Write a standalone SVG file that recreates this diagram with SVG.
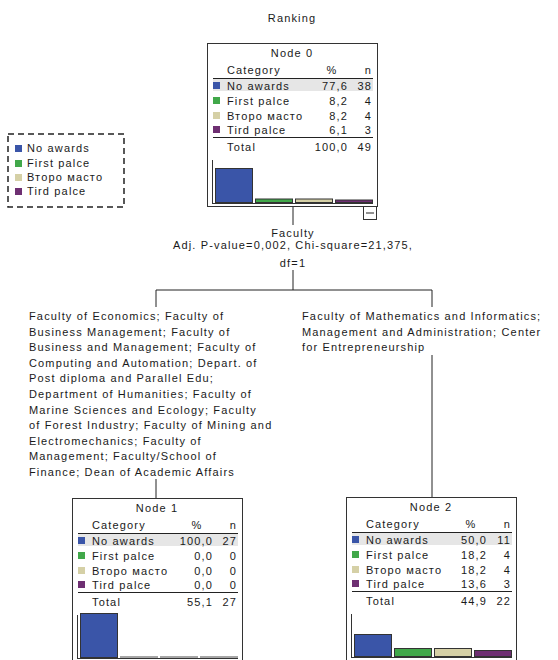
<svg xmlns="http://www.w3.org/2000/svg" width="558" height="660" viewBox="0 0 558 660">
<style>
.t{font-family:"Liberation Sans",Arial,sans-serif;font-size:11px;letter-spacing:1.15px;fill:#1a1a1a}
.m{text-anchor:middle}
.e{text-anchor:end}
.box{fill:#fff;stroke:#333;stroke-width:1}
.rule{stroke:#222;stroke-width:1;fill:none}
.ax{stroke:#333;stroke-width:1;fill:none}
.hl{fill:#e6e6e6}
.c1{fill:#3a55a8}
.c2{fill:#41a84a}
.c3{fill:#d5d0a6}
.c4{fill:#6e2f72}
.bar{stroke:#333;stroke-width:1}
.zero{stroke:#888;stroke-width:1.5}
.conn{stroke:#222;stroke-width:1;fill:none}
.leg{fill:none;stroke:#222;stroke-width:1.5;stroke-dasharray:6 4}
</style>
<rect width="558" height="660" fill="#fff"/>
<text class="t m" x="292" y="22">Ranking</text>

<g id="legend">
<rect class="leg" x="8" y="134" width="116" height="73"/>
<rect class="c1" x="15" y="145" width="7" height="7"/><text class="t" x="27" y="152">No awards</text>
<rect class="c2" x="15" y="160" width="7" height="7"/><text class="t" x="27" y="167">First palce</text>
<rect class="c3" x="15" y="174" width="7" height="7"/><text class="t" x="27" y="181">Второ масто</text>
<rect class="c4" x="15" y="188" width="7" height="7"/><text class="t" x="27" y="195">Tird palce</text>
</g>

<g id="connectors">
<line class="conn" x1="293" y1="206" x2="293" y2="225"/>
<line class="conn" x1="293" y1="270" x2="293" y2="290"/>
<line class="conn" x1="156" y1="290" x2="432" y2="290"/>
<line class="conn" x1="156" y1="290" x2="156" y2="307"/>
<line class="conn" x1="156" y1="479" x2="156" y2="498"/>
<line class="conn" x1="432" y1="290" x2="432" y2="307"/>
<line class="conn" x1="432" y1="355" x2="432" y2="497"/>
</g>

<g id="split">
<text class="t m" x="293" y="237">Faculty</text>
<text class="t m" x="293" y="249">Adj. P-value=0,002, Chi-square=21,375,</text>
<text class="t m" x="293" y="267">df=1</text>
</g>

<g id="branch-left">
<text class="t" x="29" y="320">Faculty of Economics; Faculty of</text>
<text class="t" x="29" y="335.6">Business Management; Faculty of</text>
<text class="t" x="29" y="351.2">Business and Management; Faculty of</text>
<text class="t" x="29" y="366.8">Computing and Automation; Depart. of</text>
<text class="t" x="29" y="382.4">Post diploma and Parallel Edu;</text>
<text class="t" x="29" y="398">Department of Humanities; Faculty of</text>
<text class="t" x="29" y="413.6">Marine Sciences and Ecology; Faculty</text>
<text class="t" x="29" y="429.2">of Forest Industry; Faculty of Mining and</text>
<text class="t" x="29" y="444.8">Electromechanics; Faculty of</text>
<text class="t" x="29" y="460.4">Management; Faculty/School of</text>
<text class="t" x="29" y="476">Finance; Dean of Academic Affairs</text>
</g>

<g id="branch-right">
<text class="t" x="302" y="320">Faculty of Mathematics and Informatics;</text>
<text class="t" x="302" y="335.6">Management and Administration; Center</text>
<text class="t" x="302" y="351.2">for Entrepreneurship</text>
</g>

<g id="node0" transform="translate(207,43)">
<rect class="box" x="0.5" y="0.5" width="170" height="163"/>
<text class="t m" x="85" y="14">Node 0</text>
<text class="t" x="20" y="31">Category</text><text class="t m" x="125" y="31">%</text><text class="t e" x="165" y="31">n</text>
<line class="rule" x1="6" y1="35.5" x2="166" y2="35.5"/>
<rect class="hl" x="6" y="36" width="160" height="12"/>
<rect class="c1" x="6" y="39" width="7" height="7"/><text class="t" x="20" y="47">No awards</text><text class="t e" x="141" y="47">77,6</text><text class="t e" x="165" y="47">38</text>
<rect class="c2" x="6" y="54" width="7" height="7"/><text class="t" x="20" y="62">First palce</text><text class="t e" x="141" y="62">8,2</text><text class="t e" x="165" y="62">4</text>
<rect class="c3" x="6" y="69" width="7" height="7"/><text class="t" x="20" y="77">Второ масто</text><text class="t e" x="141" y="77">8,2</text><text class="t e" x="165" y="77">4</text>
<rect class="c4" x="6" y="83" width="7" height="7"/><text class="t" x="20" y="91">Tird palce</text><text class="t e" x="141" y="91">6,1</text><text class="t e" x="165" y="91">3</text>
<line class="rule" x1="6" y1="94.5" x2="166" y2="94.5"/>
<text class="t" x="20" y="108">Total</text><text class="t e" x="141" y="108">100,0</text><text class="t e" x="165" y="108">49</text>
<line class="ax" x1="5.5" y1="117" x2="5.5" y2="160.5"/>
<line class="ax" x1="5" y1="160.5" x2="166" y2="160.5"/>
<rect class="c1 bar" x="8.5" y="125.5" width="37" height="34"/>
<rect class="c2 bar" x="48.5" y="156" width="37" height="3.5"/>
<rect class="c3 bar" x="88.5" y="156" width="37" height="3.5"/>
<rect class="c4 bar" x="128.5" y="157" width="37" height="2.5"/>
<rect class="box" x="156.5" y="163.5" width="13" height="13"/>
<line class="rule" x1="159" y1="170" x2="167" y2="170"/>
</g>

<g id="node1" transform="translate(72,498)">
<rect class="box" x="0.5" y="0.5" width="170" height="163"/>
<text class="t m" x="85" y="14">Node 1</text>
<text class="t" x="20" y="31">Category</text><text class="t m" x="125" y="31">%</text><text class="t e" x="165" y="31">n</text>
<line class="rule" x1="6" y1="35.5" x2="166" y2="35.5"/>
<rect class="hl" x="6" y="36" width="160" height="12"/>
<rect class="c1" x="6" y="39" width="7" height="7"/><text class="t" x="20" y="47">No awards</text><text class="t e" x="141" y="47">100,0</text><text class="t e" x="165" y="47">27</text>
<rect class="c2" x="6" y="54" width="7" height="7"/><text class="t" x="20" y="62">First palce</text><text class="t e" x="141" y="62">0,0</text><text class="t e" x="165" y="62">0</text>
<rect class="c3" x="6" y="69" width="7" height="7"/><text class="t" x="20" y="77">Второ масто</text><text class="t e" x="141" y="77">0,0</text><text class="t e" x="165" y="77">0</text>
<rect class="c4" x="6" y="83" width="7" height="7"/><text class="t" x="20" y="91">Tird palce</text><text class="t e" x="141" y="91">0,0</text><text class="t e" x="165" y="91">0</text>
<line class="rule" x1="6" y1="94.5" x2="166" y2="94.5"/>
<text class="t" x="20" y="108">Total</text><text class="t e" x="141" y="108">55,1</text><text class="t e" x="165" y="108">27</text>
<line class="ax" x1="5.5" y1="117" x2="5.5" y2="160.5"/>
<line class="ax" x1="5" y1="160.5" x2="166" y2="160.5"/>
<rect class="c1 bar" x="8.5" y="115.5" width="37" height="44"/>
<line class="zero" x1="48" y1="159" x2="86" y2="159"/>
<line class="zero" x1="88" y1="159" x2="126" y2="159"/>
<line class="zero" x1="128" y1="159" x2="166" y2="159"/>
</g>

<g id="node2" transform="translate(346,497)">
<rect class="box" x="0.5" y="0.5" width="170" height="163"/>
<text class="t m" x="85" y="14">Node 2</text>
<text class="t" x="20" y="31">Category</text><text class="t m" x="125" y="31">%</text><text class="t e" x="165" y="31">n</text>
<line class="rule" x1="6" y1="35.5" x2="166" y2="35.5"/>
<rect class="hl" x="6" y="36" width="160" height="12"/>
<rect class="c1" x="6" y="39" width="7" height="7"/><text class="t" x="20" y="47">No awards</text><text class="t e" x="141" y="47">50,0</text><text class="t e" x="165" y="47">11</text>
<rect class="c2" x="6" y="54" width="7" height="7"/><text class="t" x="20" y="62">First palce</text><text class="t e" x="141" y="62">18,2</text><text class="t e" x="165" y="62">4</text>
<rect class="c3" x="6" y="69" width="7" height="7"/><text class="t" x="20" y="77">Второ масто</text><text class="t e" x="141" y="77">18,2</text><text class="t e" x="165" y="77">4</text>
<rect class="c4" x="6" y="83" width="7" height="7"/><text class="t" x="20" y="91">Tird palce</text><text class="t e" x="141" y="91">13,6</text><text class="t e" x="165" y="91">3</text>
<line class="rule" x1="6" y1="94.5" x2="166" y2="94.5"/>
<text class="t" x="20" y="108">Total</text><text class="t e" x="141" y="108">44,9</text><text class="t e" x="165" y="108">22</text>
<line class="ax" x1="5.5" y1="117" x2="5.5" y2="160.5"/>
<line class="ax" x1="5" y1="160.5" x2="166" y2="160.5"/>
<rect class="c1 bar" x="8.5" y="137.5" width="37" height="22"/>
<rect class="c2 bar" x="48.5" y="151.5" width="37" height="8"/>
<rect class="c3 bar" x="88.5" y="151.5" width="37" height="8"/>
<rect class="c4 bar" x="128.5" y="153.5" width="37" height="6"/>
</g>
</svg>
